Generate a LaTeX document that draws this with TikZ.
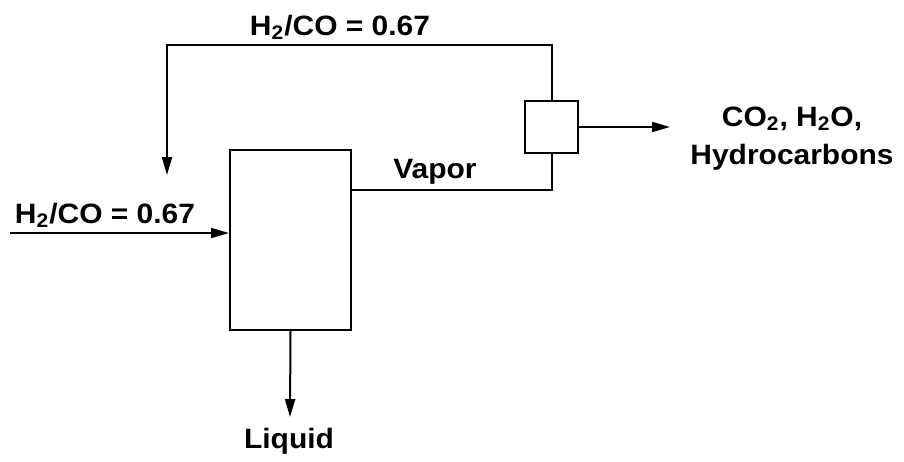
\documentclass[tikz,border=0pt]{standalone}
\usepackage{fontspec}
\setmainfont[FakeStretch=1.07]{Liberation Sans}
\usetikzlibrary{arrows.meta,positioning}

\begin{document}
\begin{tikzpicture}[x=0.5pt,y=-0.5pt,
  flow/.style={line width=1pt,-{Triangle[length=9pt,width=5pt]}},
  pipe/.style={line width=1pt},
  unit/.style={draw,line width=1pt,inner sep=0pt},
  lbl/.style={font=\bfseries\fontsize{14}{16}\selectfont,anchor=base,inner sep=0pt}]
  \useasboundingbox (0,0) rectangle (904,461); % 余白を含めた全体の大きさ
  \node[unit,minimum width=60.5pt,minimum height=90pt] (reactor) at (290.5,240) {}; % 反応器
  \node[unit,minimum width=26.5pt,minimum height=26pt] (sep) at (551.5,127) {}; % 分離器
  \coordinate (feed) at (10,233); % 原料の入口
  \coordinate (bend) at (167,45); % 循環ラインの折れ点
  \coordinate (ret) at (167,175); % 循環ラインの矢印の先
  \coordinate (vap) at (351,190); % 蒸気の出口の高さ
  \coordinate (prod) at (670,127); % 生成物の矢印の先
  \coordinate (liq) at (290,417); % 液体の矢印の先
  \draw[flow] (feed) -- (feed -| reactor.west); % 原料の流れ
  \draw[pipe] (reactor.east |- vap) -| (sep.south); % 蒸気のライン
  \draw[flow] (sep.north) |- (bend) -- (ret); % 循環ガス
  \draw[flow] (sep.east) -- (prod); % 生成物
  \draw[flow] (reactor.south) -- (liq); % 液体の抜き出し
  \node[lbl] (recyclbl) at (340,35) {H\textsubscript{2}/CO = 0.67}; % 循環ガスの組成
  \node[lbl] (feedlbl) at (105,223) {H\textsubscript{2}/CO = 0.67}; % 原料の組成
  \node[lbl] (vaplbl) at (435,178) {Vapor};
  \node[lbl] (prodlbl) at (792,126) {CO\textsubscript{2}, H\textsubscript{2}O,};
  \node[lbl] (prodlbl2) at (792,164) {Hydrocarbons};
  \node[lbl] (liqlbl) at (289,448) {Liquid};
\end{tikzpicture}
\end{document}
